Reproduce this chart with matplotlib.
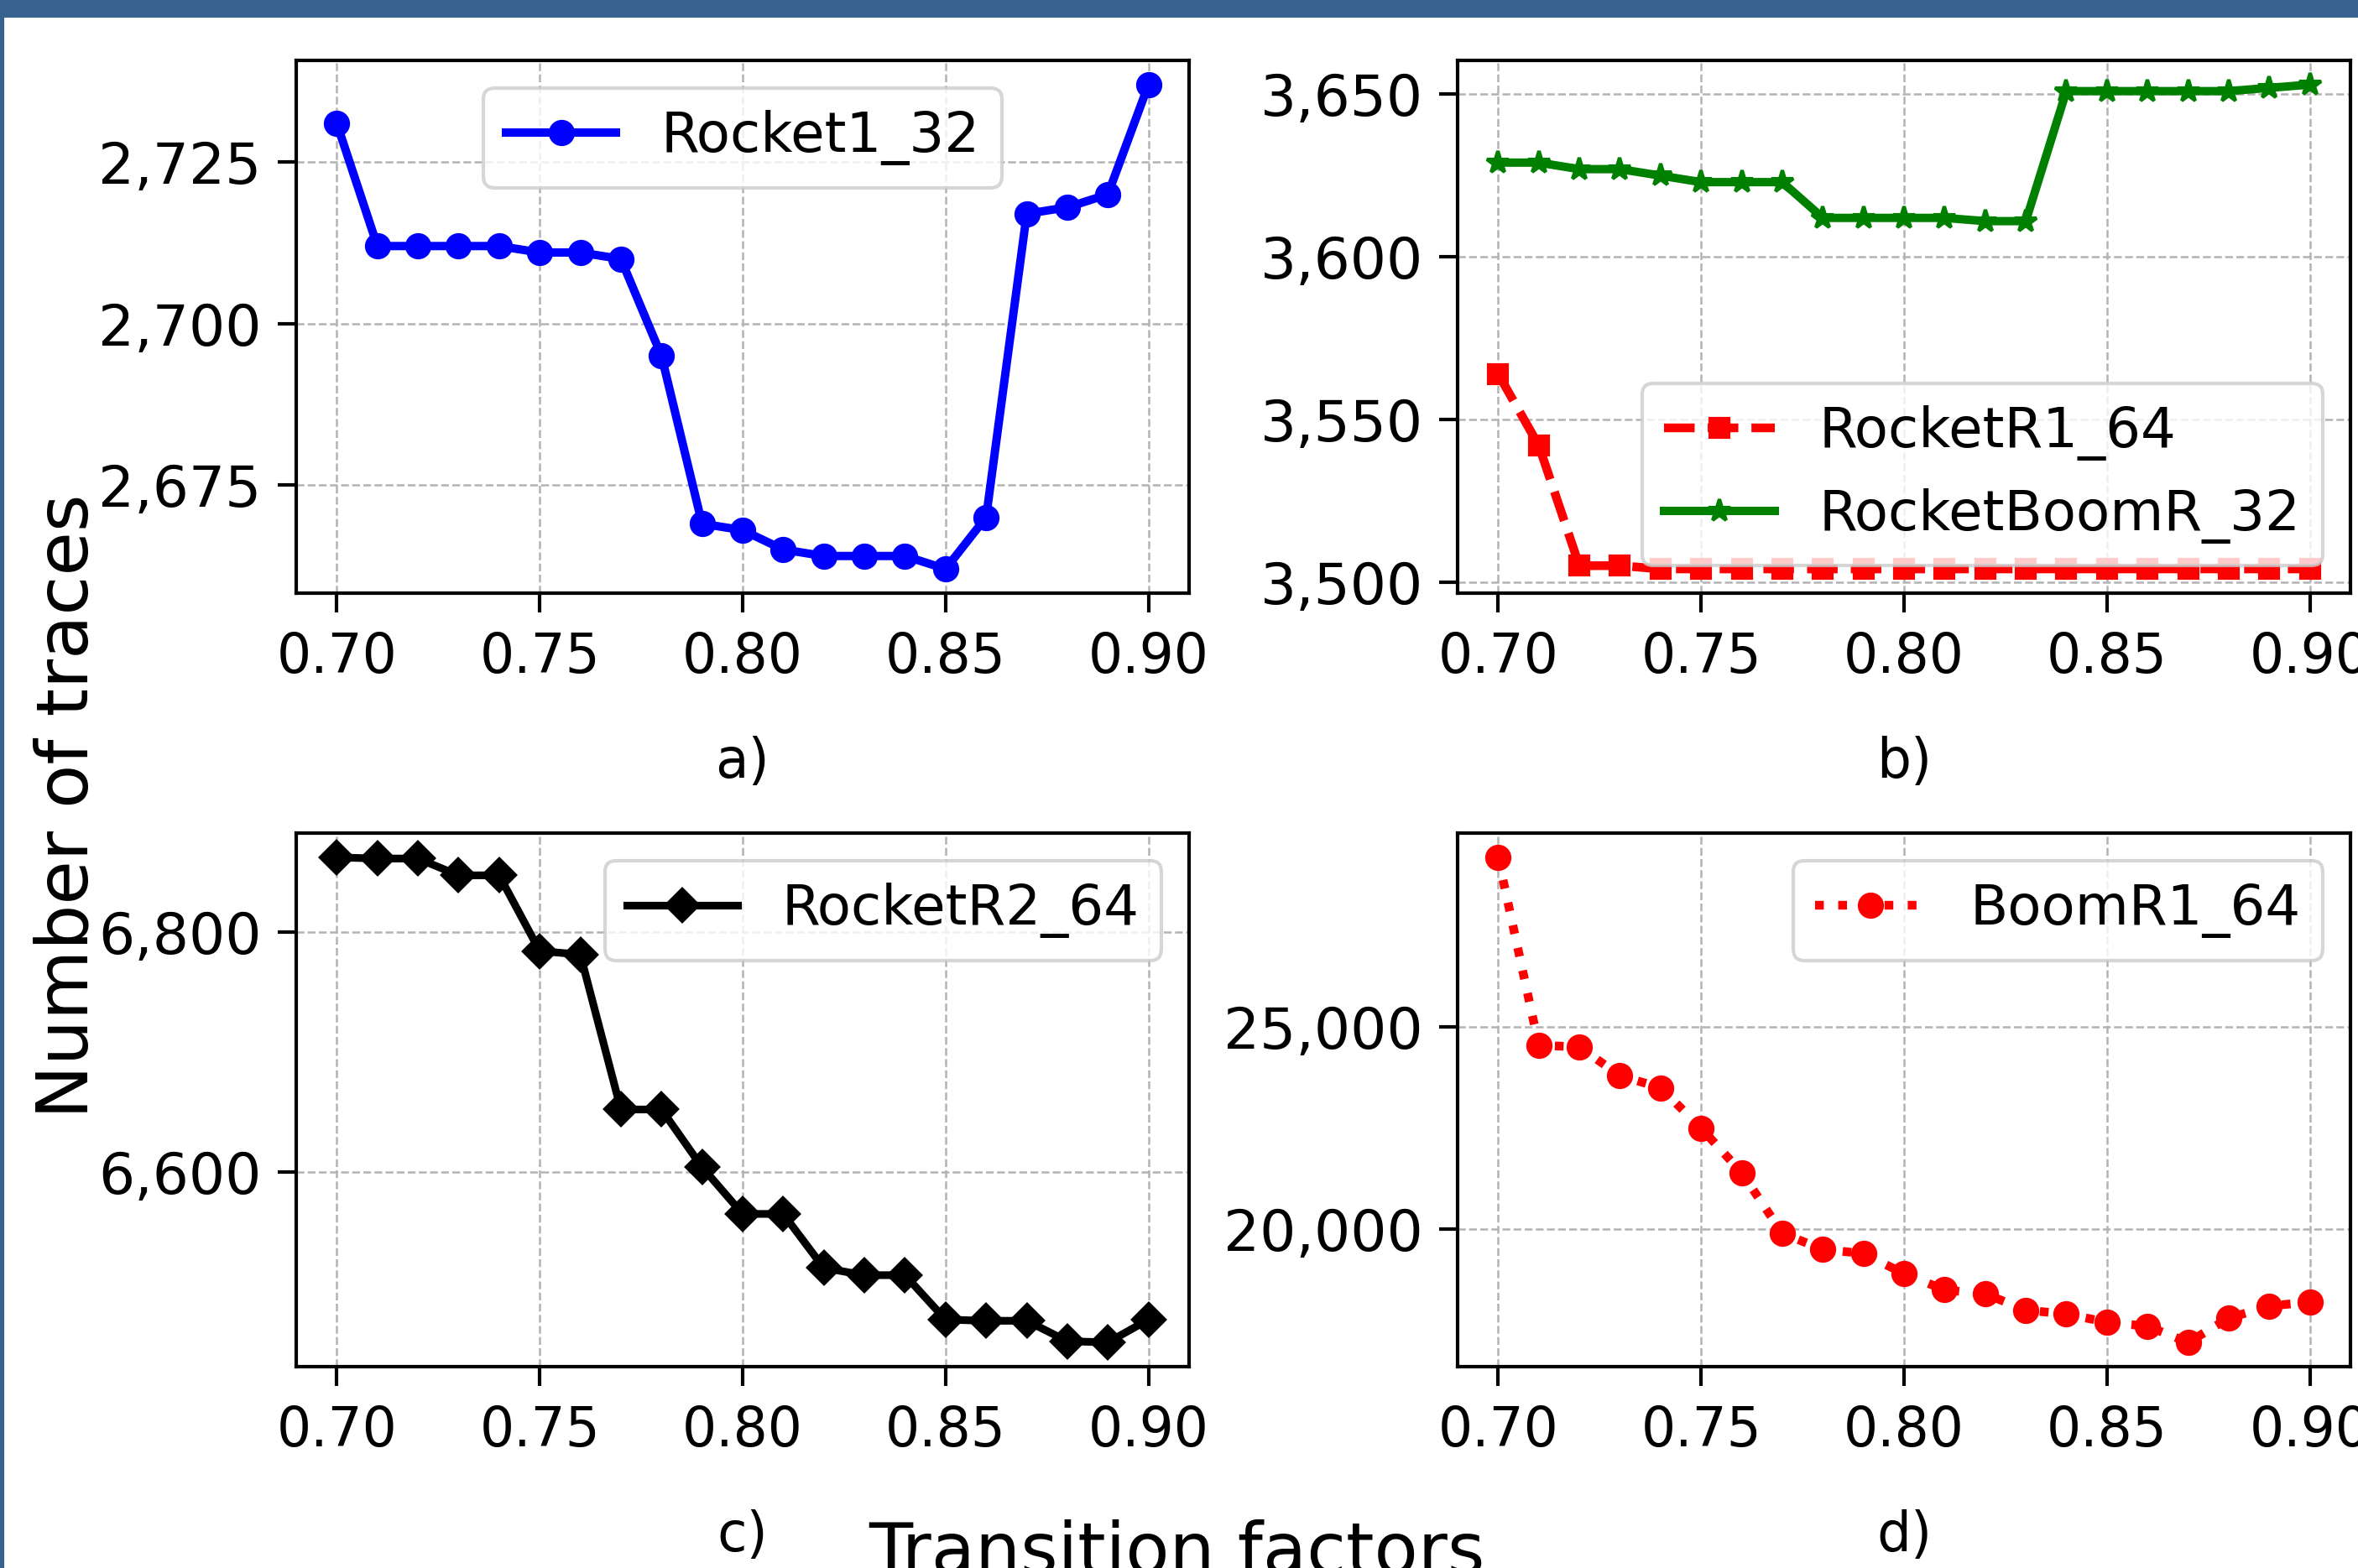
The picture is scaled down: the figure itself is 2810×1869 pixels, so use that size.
import numpy as np
import matplotlib
matplotlib.use('Agg')
import matplotlib.pyplot as plt
from matplotlib.ticker import MultipleLocator, StrMethodFormatter, FormatStrFormatter
from matplotlib.patches import Rectangle

# factores de transicion (eje x comun)
factors = [0.70, 0.71, 0.72, 0.73, 0.74, 0.75, 0.76, 0.77, 0.78, 0.79, 0.80,
           0.81, 0.82, 0.83, 0.84, 0.85, 0.86, 0.87, 0.88, 0.89, 0.90]

rocket1_32 = [2731, 2712, 2712, 2712, 2712, 2711, 2711, 2710, 2695, 2669, 2668,
              2665, 2664, 2664, 2664, 2662, 2670, 2717, 2718, 2720, 2737]

rocketR1_64 = [3564, 3542, 3505, 3505, 3504, 3504, 3504, 3504, 3504, 3504, 3504,
               3504, 3504, 3504, 3504, 3504, 3504, 3504, 3504, 3504, 3504]
rocketBoomR_32 = [3629, 3629, 3627, 3627, 3625, 3623, 3623, 3623, 3612, 3612, 3612,
                  3612, 3611, 3611, 3651, 3651, 3651, 3651, 3651, 3652, 3653]

rocketR2_64 = [6862, 6861, 6861, 6847, 6847, 6784, 6781, 6652, 6652, 6604, 6565,
               6565, 6520, 6514, 6514, 6477, 6476, 6476, 6459, 6458, 6477]

boomR1_64 = [29200, 24550, 24510, 23800, 23500, 22500, 21400, 19900, 19500, 19400, 18900,
             18500, 18400, 18000, 17900, 17700, 17600, 17200, 17800, 18100, 18200]

W, H = 2810, 1869
fs = 15.5      # etiquetas del eje x
fs_y = 16.3    # etiquetas del eje y
fs_leg = 15.8

fig = plt.figure(figsize=(W / 300, H / 300), dpi=300)

# posiciones de los ejes en pixeles (izq, arriba, der, abajo)
boxes = {
    'a': (353, 72, 1417, 707),
    'b': (1737, 72, 2801, 707),
    'c': (353, 993, 1417, 1629),
    'd': (1737, 993, 2801, 1629),
}
axs = {}
for k, (l, t, r, b) in boxes.items():
    axs[k] = fig.add_axes([l / W, 1 - b / H, (r - l) / W, (b - t) / H])

ax = axs['a']
ax.plot(factors, rocket1_32, color='blue', marker='o', lw=2.4, ms=6.5, label='Rocket1_32')
ax.yaxis.set_major_locator(MultipleLocator(25))
ax.legend(loc='upper center', fontsize=fs_leg)

ax = axs['b']
ax.plot(factors, rocketR1_64, color='red', ls='--', marker='s', lw=2.5, ms=5.5,
        dashes=(3.5, 1.5), label='RocketR1_64')
ax.plot(factors, rocketBoomR_32, color='green', marker='*', lw=2.4, ms=6.5, label='RocketBoomR_32')
ax.yaxis.set_major_locator(MultipleLocator(50))
ax.legend(loc='lower right', fontsize=fs_leg)

ax = axs['c']
ax.plot(factors, rocketR2_64, color='black', marker='D', lw=2.2, ms=6.5, label='RocketR2_64')
ax.yaxis.set_major_locator(MultipleLocator(200))
ax.legend(loc='upper right', fontsize=fs_leg)

ax = axs['d']
ax.plot(factors, boomR1_64, color='red', ls=':', marker='o', lw=2.5, ms=6.5, label='BoomR1_64')
ax.yaxis.set_major_locator(MultipleLocator(5000))
ax.legend(loc='upper right', fontsize=fs_leg)

for k, ax in axs.items():
    ax.set_xticks([0.70, 0.75, 0.80, 0.85, 0.90])
    ax.xaxis.set_major_formatter(FormatStrFormatter('%.2f'))
    ax.yaxis.set_major_formatter(StrMethodFormatter('{x:,.0f}'))
    ax.grid(True, ls='--', lw=0.6, color='0.7')
    ax.tick_params(length=5.4, width=1.0)
    ax.tick_params(axis='x', labelsize=fs, pad=5.5)
    ax.tick_params(axis='y', labelsize=fs_y, pad=4.5)
    for s in ax.spines.values():
        s.set_linewidth(1.0)
    ax.set_xlabel(k + ')', fontsize=fs, labelpad=14.5)

fig.text(122 / W, 1 - 961 / H, 'Number of traces', rotation=90,
         fontsize=20.5, ha='right', va='center')
fig.text(1402 / W, -0.004, 'Transition factors', fontsize=20.5, ha='center', va='baseline')

# marco azul del documento
fig.patches.append(Rectangle((0, 1 - 19 / H), 1, 19 / H, transform=fig.transFigure,
                             color='#37618f', zorder=10))
fig.patches.append(Rectangle((0, 0), 3 / W, 1, transform=fig.transFigure,
                             color='#37618f', zorder=10))

fig.savefig('out.png', dpi=300)
